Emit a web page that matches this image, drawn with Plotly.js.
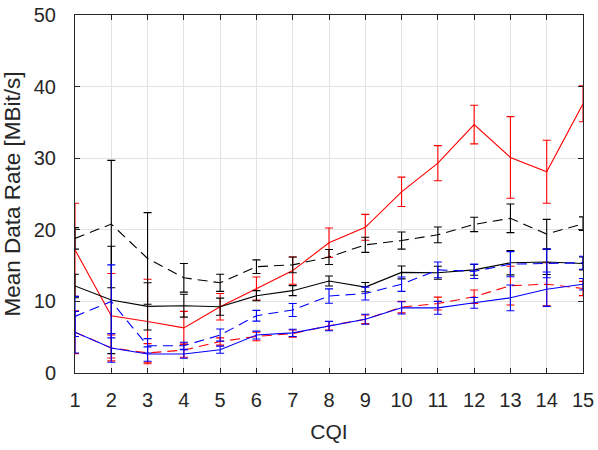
<!DOCTYPE html>
<html>
<head>
<meta charset="utf-8">
<script src="https://cdn.plot.ly/plotly-3.0.1.min.js"></script>
<style>
  html, body { margin: 0; padding: 0; background: #fff; }
  #chart { width: 598px; height: 450px; }
</style>
</head>
<body>
<div id="chart"></div>
<script>
// CQI index on the x axis
const cqi = [1, 2, 3, 4, 5, 6, 7, 8, 9, 10, 11, 12, 13, 14, 15];

// Mean data rate per CQI (MBit/s) and the half-width of each error bar
const redSolid      = [17.2, 8.0, 7.2, 6.3, 9.25, 11.8, 14.3, 18.2, 20.35, 25.3, 29.3, 34.7, 30.1, 28.1, 37.6];
const redSolidErr   = [6.5, 5.9, 5.9, 2.3, 1.85, 1.6, 1.9, 2.05, 1.8, 2.05, 2.45, 2.7, 5.7, 4.4, 2.5];

const redDashed     = [5.7, 3.5, 2.8, 3.2, 4.4, 5.1, 5.5, 6.6, 7.5, 9.2, 9.7, 10.65, 12.2, 12.4, 11.8];
const redDashedErr  = [3.0, 1.8, 1.3, 1.0, 0.5, 0.6, 0.5, 0.6, 0.6, 0.8, 0.9, 0.95, 2.7, 3.0, 1.0];

const blackSolid    = [12.15, 10.2, 9.3, 9.4, 9.26, 10.8, 11.5, 12.85, 12.0, 14.05, 14.0, 14.4, 15.4, 15.5, 15.3];
const blackSolidErr = [1.65, 7.5, 3.3, 1.6, 1.2, 0.7, 0.7, 0.7, 0.65, 0.9, 0.9, 0.75, 1.7, 1.75, 0.9];

const blackDashed   = [18.8, 20.8, 16.0, 13.3, 12.6, 14.85, 15.1, 16.2, 17.9, 18.5, 19.3, 20.75, 21.6, 19.4, 20.85];
const blackDashedErr= [1.5, 8.9, 6.4, 2.0, 1.2, 0.95, 1.1, 1.05, 1.05, 1.2, 1.1, 1.0, 2.0, 2.05, 0.95];

const blueSolid     = [5.7, 3.5, 2.65, 2.65, 3.25, 5.3, 5.6, 6.56, 7.5, 9.1, 9.1, 9.8, 10.5, 11.7, 12.4];
const blueSolidErr  = [2.9, 2.0, 1.0, 0.6, 0.5, 0.55, 0.5, 0.65, 0.7, 0.85, 0.9, 0.75, 1.8, 2.4, 0.8];

const blueDashed    = [7.9, 10.0, 3.8, 3.8, 5.3, 8.0, 8.8, 10.75, 11.1, 12.4, 14.4, 14.2, 15.2, 15.3, 15.4];
const blueDashedErr = [2.8, 5.1, 1.0, 0.5, 0.85, 0.75, 0.9, 1.0, 0.9, 1.0, 1.1, 1.0, 1.75, 2.0, 0.9];

function series(y, err, color, dash) {
  return {
    x: cqi, y: y, type: 'scatter', mode: 'lines',
    line: { color: color, width: 1.1, dash: dash },
    error_y: { type: 'data', array: err, visible: true, color: color, thickness: 1.1, width: 4 },
    hoverinfo: 'skip'
  };
}

const DASH = '10px,6px';
const traces = [
  series(redSolid, redSolidErr, '#ff0000', 'solid'),
  series(redDashed, redDashedErr, '#ff0000', DASH),
  series(blackSolid, blackSolidErr, '#000000', 'solid'),
  series(blackDashed, blackDashedErr, '#000000', DASH),
  series(blueSolid, blueSolidErr, '#0000ff', 'solid'),
  series(blueDashed, blueDashedErr, '#0000ff', DASH)
];

const family = 'Liberation Sans, Arial, sans-serif';
const tickFont = { family: family, size: 20, color: '#262626' };

const layout = {
  width: 598, height: 450,
  margin: { l: 75, r: 15, t: 15, b: 77 },
  paper_bgcolor: '#ffffff', plot_bgcolor: '#ffffff',
  showlegend: false,
  font: tickFont,
  xaxis: {
    range: [1, 15], tickvals: cqi, ticktext: cqi.map(String),
    showgrid: true, gridcolor: '#e3e3e3', gridwidth: 1,
    zeroline: false, showline: true, linecolor: '#262626', linewidth: 1,
    mirror: 'ticks', ticks: 'inside', ticklen: 5, tickcolor: '#262626',
    tickfont: tickFont, ticklabelstandoff: 9,
    title: { text: 'CQI', font: { family: family, size: 21, color: '#262626' }, standoff: 14 }
  },
  yaxis: {
    range: [0, 50], tickvals: [0, 10, 20, 30, 40, 50],
    showgrid: true, gridcolor: '#e3e3e3', gridwidth: 1,
    zeroline: false, showline: true, linecolor: '#262626', linewidth: 1,
    mirror: 'ticks', ticks: 'inside', ticklen: 5, tickcolor: '#262626',
    tickfont: tickFont, ticklabelstandoff: 14,
    title: { text: 'Mean Data Rate [MBit/s]', font: { family: family, size: 22.5, color: '#262626' }, standoff: 10 }
  }
};

Plotly.newPlot('chart', traces, layout, { displayModeBar: false, staticPlot: true });
</script>
</body>
</html>
